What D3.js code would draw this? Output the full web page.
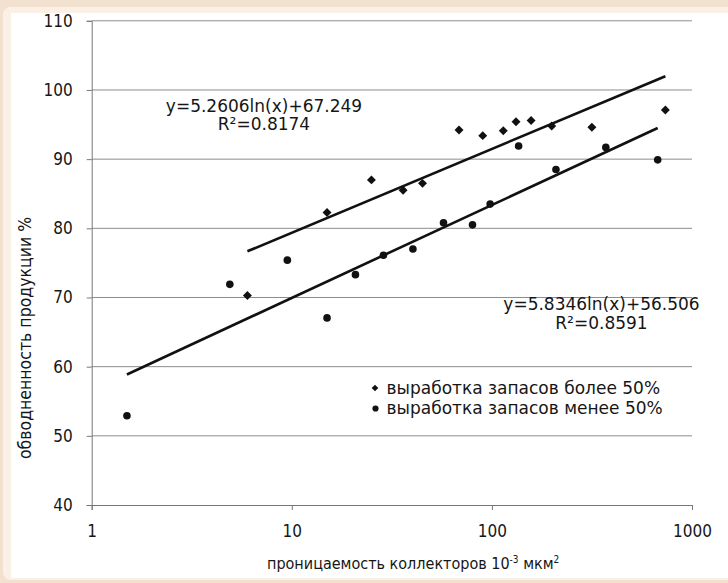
<!DOCTYPE html>
<html>
<head>
<meta charset="utf-8">
<script src="https://cdn.jsdelivr.net/npm/d3@7"></script>
<style>
  body { margin: 0; background: #f3e1d0; }
  svg { display: block; font-family: "DejaVu Sans", Verdana, sans-serif; }
</style>
</head>
<body>
<svg id="chart" width="728" height="583"></svg>
<script>
// values
const moreX = [6, 15, 25, 36, 45, 68.5, 90, 114, 132, 157, 199, 316, 736];
const moreY = [70.3, 82.3, 87.0, 85.5, 86.5, 94.2, 93.4, 94.1, 95.4, 95.6, 94.8, 94.6, 97.1];
const lessX = [1.5, 4.9, 9.5, 15, 20.8, 28.7, 40.3, 57.3, 80, 98, 136, 209, 371, 674];
const lessY = [52.9, 71.9, 75.4, 67.05, 73.3, 76.1, 77.0, 80.8, 80.5, 83.5, 91.9, 88.5, 91.7, 89.9];
const seriesNames = ["выработка запасов более 50%", "выработка запасов менее 50%"];
const fitA = [5.2606, 5.8346];
const fitB = [67.249, 56.506];
const fitR2 = ["0.8174", "0.8591"];
const xTicks = [1, 10, 100, 1000];
const yTicks = [40, 50, 60, 70, 80, 90, 100, 110];

const condensed = "\"DejaVu Sans Condensed\", \"DejaVu Sans\", sans-serif";
const ink = "#161616";
const svg = d3.select("#chart");

// page frame
svg.append("rect").attr("x", 3).attr("y", 7).attr("width", 740).attr("height", 573)
    .attr("rx", 8).attr("fill", "#fbf0e5");
svg.append("rect").attr("x", 11).attr("y", 13).attr("width", 720).attr("height", 565)
    .attr("fill", "#ffffff");

const x = d3.scaleLog().domain([1, 1000]).range([91.7, 692]);
const y = d3.scaleLinear().domain([40, 110]).range([505, 20.8]);

// gridlines
svg.append("g")
    .selectAll("line")
    .data(yTicks.slice(1))
    .enter()
    .append("line")
    .attr("x1", x(1)).attr("x2", x(1000))
    .attr("y1", d => y(d)).attr("y2", d => y(d))
    .attr("stroke", "#8c8c8c").attr("stroke-width", 1);

// axes
const yAxis = svg.append("g")
    .attr("transform", `translate(${x(1)},0)`)
    .call(d3.axisLeft(y).tickValues(yTicks).tickSize(5).tickPadding(14));
const xAxis = svg.append("g")
    .attr("transform", `translate(0,${y(40)})`)
    .call(d3.axisBottom(x).tickValues(xTicks).tickFormat(d3.format("d")).tickSize(5).tickPadding(15));
[yAxis, xAxis].forEach(g => {
    g.select(".domain").attr("stroke", "#777");
    g.selectAll(".tick line").attr("stroke", "#777");
    g.selectAll("text").attr("font-size", 17).attr("fill", ink)
        .attr("font-family", condensed);
});

// trend lines
const fitRange = [[d3.min(moreX), d3.max(moreX)], [d3.min(lessX), d3.max(lessX)]];
const line = d3.line().x(d => x(d[0])).y(d => y(d[1]));
fitRange.forEach((r, i) => {
    const pts = r.map(v => [v, fitA[i] * Math.log(v) + fitB[i]]);
    svg.append("path").attr("d", line(pts))
        .attr("fill", "none").attr("stroke", "#111").attr("stroke-width", 2.6);
});

// points
const diamond = d3.symbol().type(d3.symbolSquare).size(40);
svg.append("g")
    .selectAll("path")
    .data(d3.zip(moreX, moreY))
    .enter()
    .append("path")
    .attr("d", diamond)
    .attr("transform", d => `translate(${x(d[0])},${y(d[1])}) rotate(45)`)
    .attr("fill", "#111");
svg.append("g")
    .selectAll("circle")
    .data(d3.zip(lessX, lessY))
    .enter()
    .append("circle")
    .attr("cx", d => x(d[0])).attr("cy", d => y(d[1]))
    .attr("r", 3.8)
    .attr("fill", "#111");

// equations
const eqPos = [[264, 111.5], [601.5, 310]];
eqPos.forEach((p, i) => {
    const t = svg.append("text").attr("text-anchor", "middle")
        .attr("font-size", 17).attr("fill", ink);
    t.append("tspan").attr("x", p[0]).attr("y", p[1])
        .text(`y=${fitA[i]}ln(x)+${fitB[i]}`);
    t.append("tspan").attr("x", p[0]).attr("y", p[1] + 18.5)
        .text(`R²=${fitR2[i]}`);
});

// legend
const legend = svg.append("g").attr("transform", "translate(375,388)");
legend.append("path").attr("d", d3.symbol().type(d3.symbolSquare).size(22))
    .attr("transform", "rotate(45)").attr("fill", "#111");
legend.append("circle").attr("cx", 0.5).attr("cy", 20.5).attr("r", 3.1).attr("fill", "#111");
legend.selectAll("text")
    .data(seriesNames)
    .enter()
    .append("text")
    .attr("x", 11.5).attr("y", (d, i) => 5.8 + i * 20.6)
    .attr("font-size", 17).attr("fill", ink)
    .text(d => d);

// axis titles
const xt = svg.append("text").attr("x", 267).attr("y", 569)
    .attr("font-size", 16).attr("fill", ink).attr("font-family", condensed);
xt.append("tspan").text("проницаемость коллекторов 10");
xt.append("tspan").attr("font-size", 10).attr("dy", -6).text("-3");
xt.append("tspan").attr("dy", 6).text(" мкм");
xt.append("tspan").attr("font-size", 10).attr("dy", -6).text("2");

svg.append("text")
    .attr("transform", "translate(31,338) rotate(-90)")
    .attr("text-anchor", "middle")
    .attr("font-size", 17.5).attr("fill", ink).attr("font-family", condensed)
    .text("обводненность продукции %");
</script>
</body>
</html>
